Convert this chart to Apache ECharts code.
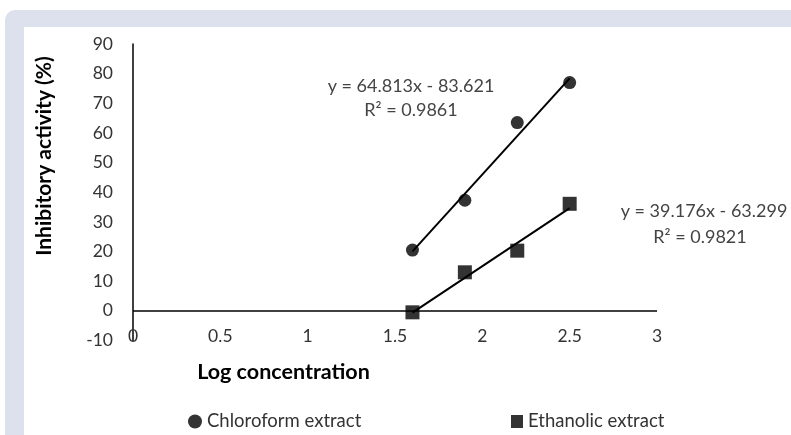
<!DOCTYPE html>
<html><head><meta charset="utf-8">
<script src="https://cdn.jsdelivr.net/npm/echarts@6/dist/echarts.min.js"></script>
<style>
html,body{margin:0;padding:0;background:#fff;width:791px;height:435px;overflow:hidden}
#frame{position:absolute;left:5px;top:10px;right:0;bottom:0;background:#dde1ee;border-top-left-radius:10px}
#panel{position:absolute;left:24px;top:27px;right:0;bottom:0;background:#fff}
#chart{position:absolute;left:0;top:0;width:791px;height:435px}
</style></head><body>
<div id="frame"></div><div id="panel"></div><div id="chart"></div>
<script>
// ---- data ----
const logConc = [1.6, 1.9, 2.2, 2.5];
const chloroform = [20.5, 37.3, 63.5, 77.0];
const ethanolic = [-0.5, 13.0, 20.3, 36.1];
const seriesNames = ['Chloroform extract', 'Ethanolic extract'];
// trendline [slope, intercept, R²] as printed on the chart
const chloroFit = [64.813, -83.621, 0.9861];
const ethanolFit = [39.176, -63.299, 0.9821];
const xAxisRange = [0, 3, 0.5];
const yAxisRange = [-10, 90, 10];

const FONT = 'Lato';
const pairs = (xs, ys) => xs.map((x, i) => [x, ys[i]]);
const trend = (fit) => {
  const x0 = Math.min(...logConc), x1 = Math.max(...logConc);
  return [[x0, fit[0] * x0 + fit[1]], [x1, fit[0] * x1 + fit[1]]];
};
const eq = (fit) => 'y = ' + fit[0].toFixed(3) + 'x ' + (fit[1] < 0 ? '- ' : '+ ') + Math.abs(fit[1]).toFixed(3);
const r2 = (fit) => 'R\u00B2 = ' + fit[2].toFixed(4);

const chart = echarts.init(document.getElementById('chart'), null, {renderer: 'canvas'});
const legendText = {fontFamily: FONT, fontSize: 18.5, color: '#333'};
const noteStyle = {fontFamily: FONT, fontSize: 18, fill: '#444', align: 'center', verticalAlign: 'middle'};
chart.setOption({
  backgroundColor: 'transparent',
  animation: false,
  grid: {left: 133, right: 134, top: 44, bottom: 94.5, containLabel: false},
  legend: [
    {data: [{name: seriesNames[0], icon: 'circle'}], left: 183, top: 407, itemWidth: 14, itemHeight: 14, textStyle: legendText, selectedMode: false},
    {data: [{name: seriesNames[1], icon: 'rect'}], left: 506, top: 407, itemWidth: 12, itemHeight: 13, textStyle: legendText, selectedMode: false}
  ],
  xAxis: {
    type: 'value', min: xAxisRange[0], max: xAxisRange[1], interval: xAxisRange[2],
    axisLine: {show: false}, axisTick: {show: false}, splitLine: {show: false},
    axisLabel: {fontFamily: FONT, fontSize: 17.5, color: '#333', margin: -4, verticalAlign: 'middle'}
  },
  yAxis: {
    type: 'value', min: yAxisRange[0], max: yAxisRange[1], interval: yAxisRange[2],
    axisLine: {show: true, onZero: false, lineStyle: {color: '#000', width: 1.5}},
    axisTick: {show: false}, splitLine: {show: false},
    axisLabel: {fontFamily: FONT, fontSize: 17.5, color: '#333', margin: 20}
  },
  graphic: [
    {type: 'text', x: 44, y: 156, rotation: Math.PI / 2, style: {text: 'Inhibitory activity (%)', fontFamily: FONT, fontSize: 21, fontWeight: 'bold', fill: '#000', align: 'center', verticalAlign: 'middle'}},
    {type: 'text', style: {text: 'Log concentration', x: 283.5, y: 372, fontFamily: FONT, fontSize: 21.5, fontWeight: 'bold', fill: '#000', align: 'center', verticalAlign: 'middle'}},
    {type: 'text', style: Object.assign({text: eq(chloroFit), x: 411, y: 86}, noteStyle)},
    {type: 'text', style: Object.assign({text: r2(chloroFit), x: 411, y: 110}, noteStyle)},
    {type: 'text', style: Object.assign({text: eq(ethanolFit), x: 704, y: 211}, noteStyle)},
    {type: 'text', style: Object.assign({text: r2(ethanolFit), x: 700, y: 237}, noteStyle)}
  ],
  series: [
    {name: seriesNames[0], type: 'scatter', data: pairs(logConc, chloroform), symbol: 'circle', symbolSize: 13, itemStyle: {color: '#000'}, z: 5,
      markLine: {silent: true, symbol: 'none', label: {show: false}, lineStyle: {color: '#000', width: 1.5, type: 'solid'}, data: [{yAxis: 0}]}},
    {name: seriesNames[1], type: 'scatter', data: pairs(logConc, ethanolic), symbol: 'rect', symbolSize: 14, itemStyle: {color: '#000'}, z: 5},
    {name: 'chloroTrend', type: 'line', data: trend(chloroFit), symbol: 'none', lineStyle: {color: '#000', width: 2}, z: 3},
    {name: 'ethanolTrend', type: 'line', data: trend(ethanolFit), symbol: 'none', lineStyle: {color: '#000', width: 2}, z: 3}
  ]
});
</script>
</body></html>
